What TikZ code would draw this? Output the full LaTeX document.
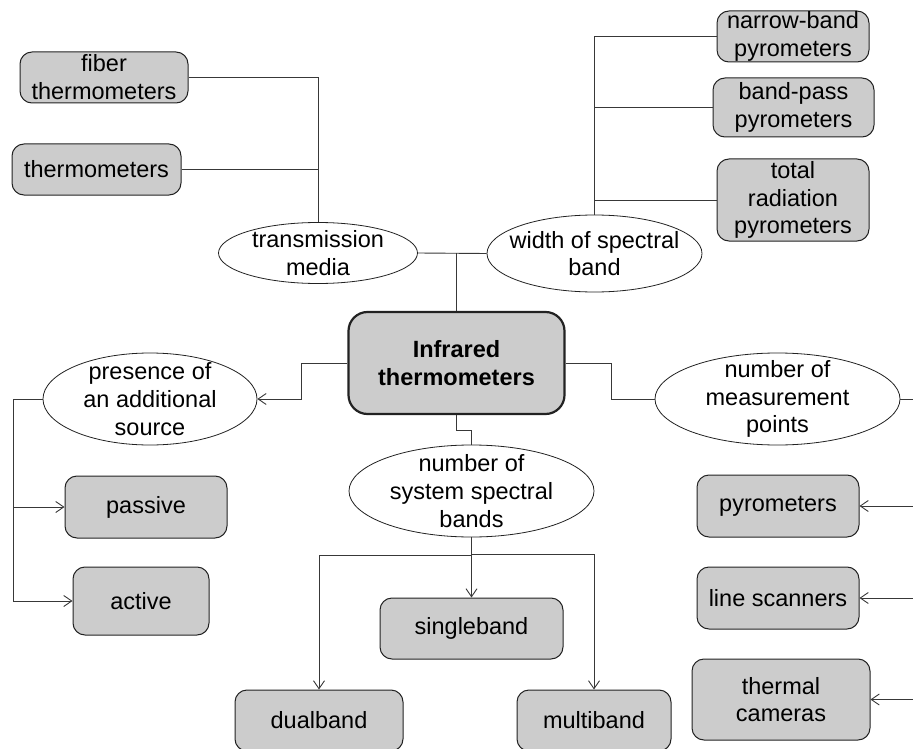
\documentclass[tikz,border=0pt]{standalone}
\usepackage{fontspec}
\setmainfont{Liberation Sans}
\usepackage{tikz}
\usetikzlibrary{positioning,arrows.meta,calc,shapes.geometric}
\newcommand\irfont{\fontsize{23.5}{27.8}\selectfont}
\definecolor{irgray}{HTML}{CCCCCC}
\definecolor{irink}{HTML}{222222}
\tikzset{
  irbox/.style={draw=irink, rounded corners=12pt, fill=irgray, line width=1pt,
    align=center, font=\irfont, inner xsep=2pt, inner ysep=0pt},
  irroot/.style={irbox, rounded corners=19pt, line width=2.2pt, font=\irfont\bfseries},
  ircrit/.style={ellipse, draw=irink, fill=white, line width=0.8pt, align=center,
    font=\irfont, inner xsep=-15pt, inner ysep=-15pt},
  irline/.style={draw=irink!90, line width=0.9pt},
  irarrow/.style={irline, -{Straight Barb[length=8pt, width=11pt]}},
}

\begin{document}
\begin{tikzpicture}[x=1pt, y=-1pt]
  \clip (0,0) rectangle (913,749);
  % centre
  \node[irroot, minimum width=216pt, minimum height=102pt] (root) at (456.5,363) {Infrared\\thermometers};
  % transmission media
  \node[ircrit, minimum width=199pt, minimum height=61pt] (trans) at (318,253) {transmission\\media};
  \node[irbox, minimum width=168pt, minimum height=51pt] (fiber) at (104,77.5) {fiber\\thermometers};
  \node[irbox, minimum width=169pt, minimum height=51pt] (thermo) at (96.5,169.5) {thermometers};
  \draw[irline] (fiber.east) -| (trans.north);
  \draw[irline] (thermo.east) -- (thermo.east -| trans.north);
  % width of spectral band
  \node[ircrit, minimum width=215pt, minimum height=77pt] (width) at (594.5,253.5) {width of spectral\\band};
  \node[irbox, minimum width=152pt, minimum height=51pt] (narrow) at (793,36.5) {narrow-band\\pyrometers};
  \node[irbox, minimum width=161pt, minimum height=59pt] (bandpass) at (793.5,107.5) {band-pass\\pyrometers};
  \node[irbox, minimum width=152pt, minimum height=82pt] (total) at (793,200) {total\\radiation\\pyrometers};
  \draw[irline] (width.north) |- (narrow.west);
  \draw[irline] (bandpass.west) -- (bandpass.west -| width.north);
  \draw[irline] (total.west) -- (total.west -| width.north);
  \draw[irline] (trans.east) -- (width.west);
  \draw[irline] (root.north) -- (root.north |- trans.east);
  % presence of an additional source
  \node[ircrit, minimum width=214pt, minimum height=92pt] (source) at (150,399) {presence of\\an additional\\source};
  \node[irbox, minimum width=162pt, minimum height=62pt] (passive) at (146,507) {passive};
  \node[irbox, minimum width=136pt, minimum height=68pt] (active) at (141,601) {active};
  \coordinate (lbus) at (13,399);
  \draw[irarrow] (root.west) -- ++(-46,0) |- (source.east);
  \draw[irline] (source.west) -- (lbus);
  \draw[irarrow] (lbus) |- (active.west);
  \draw[irarrow] (lbus |- passive.west) -- (passive.west);
  % number of system spectral bands
  \node[ircrit, minimum width=245pt, minimum height=92pt] (bands) at (471.5,491) {number of\\system spectral\\bands};
  \node[irbox, minimum width=183pt, minimum height=61pt] (single) at (471.5,628.5) {singleband};
  \node[irbox, minimum width=168pt, minimum height=61pt] (dual) at (319,720.5) {dualband};
  \node[irbox, minimum width=154pt, minimum height=61pt] (multi) at (594,720.5) {multiband};
  \draw[irline] (root.south) -- ++(0,15) -| (bands.north);
  \draw[irarrow] (bands.south) -- (single.north);
  \draw[irarrow] (bands.south) -- ++(0,18) -| (dual.north);
  \draw[irarrow] (bands.south) -- ++(0,17) -| (multi.north);
  % number of measurement points
  \node[ircrit, minimum width=245pt, minimum height=92pt] (points) at (777.5,399) {number of\\measurement\\points};
  \node[irbox, minimum width=162pt, minimum height=62pt] (pyro) at (778,506) {pyrometers};
  \node[irbox, minimum width=162pt, minimum height=62pt] (scan) at (778,598) {line scanners};
  \node[irbox, minimum width=178pt, minimum height=81pt] (camera) at (781,699.5) {thermal\\cameras};
  \coordinate (rbus) at (918,399);
  \draw[irline] (root.east) -- ++(46,0) |- (points.west);
  \draw[irline] (points.east) -- (rbus) -- (rbus |- camera.east);
  \draw[irarrow] (rbus |- pyro.east) -- (pyro.east);
  \draw[irarrow] (rbus |- scan.east) -- (scan.east);
  \draw[irarrow] (rbus |- camera.east) -- (camera.east);
\end{tikzpicture}
\end{document}
